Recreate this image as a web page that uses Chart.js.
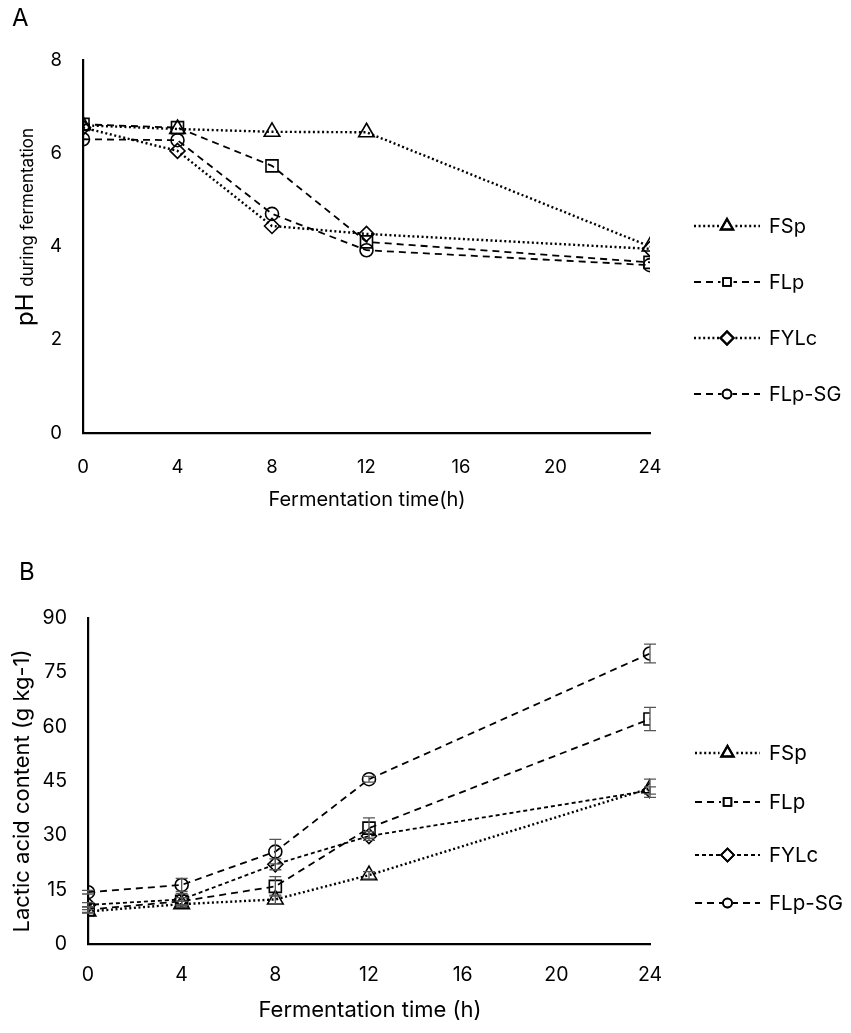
<!DOCTYPE html>
<html>
<head>
<meta charset="utf-8">
<script src="https://cdn.jsdelivr.net/npm/chart.js@4.4.1/dist/chart.umd.min.js"></script>
<style>
html,body{margin:0;padding:0;background:#fff;width:851px;height:1033px;overflow:hidden;}
canvas{position:absolute;left:0;}
#cA{top:0;}
#cB{top:520px;}
</style>
</head>
<body>
<canvas id="cA" width="851" height="520"></canvas>
<canvas id="cB" width="851" height="513"></canvas>
<script>
// ---------- DATA ----------
const seriesNames = ["FSp", "FLp", "FYLc", "FLp-SG"];
const timesH = [0, 4, 8, 12, 24];
const xTicks = [0, 4, 8, 12, 16, 20, 24];

// Panel A: pH during fermentation
const phFSp   = [6.60, 6.52, 6.46, 6.45, 4.00];
const phFLp   = [6.62, 6.55, 5.73, 4.10, 3.66];
const phFYLc  = [6.55, 6.05, 4.44, 4.27, 3.95];
const phFLpSG = [6.30, 6.28, 4.70, 3.92, 3.60];
const phTicks = [0, 2, 4, 6, 8];

// Panel B: lactic acid content (g kg-1)
const laFSp   = [9.0, 11.0, 12.3, 19.0, 43.0];
const laFLp   = [9.5, 11.8, 15.9, 32.0, 62.1];
const laFYLc  = [10.8, 12.3, 22.0, 29.8, 42.4];
const laFLpSG = [14.3, 16.3, 25.5, 45.5, 80.2];
const laErrFSp   = [0.5, 0.8, 1.2, 1.0, 2.5];
const laErrFLp   = [0.8, 1.0, 2.7, 2.8, 3.2];
const laErrFYLc  = [0.6, 1.6, 1.5, 1.2, 1.0];
const laErrFLpSG = [0.5, 1.8, 3.4, 0.8, 2.6];
const laTicks = [0, 15, 30, 45, 60, 75, 90];

// ---------- STYLE ----------
const FONT = "Inter, 'Open Sans', 'Liberation Sans', Arial, sans-serif";
const DOT = [2, 2.6];
const DASH = [7, 5];
const SHORTDASH = [4, 3];
const markerStyles = [
  {pointStyle: 'triangle', radius: 9},
  {pointStyle: 'rect', radius: 8.5},
  {pointStyle: 'rectRot', radius: 7.5},
  {pointStyle: 'circle', radius: 6.5}
];

function makeDataset(name, values, idx, dash, lw) {
  const m = markerStyles[idx];
  return {
    label: name,
    data: timesH.map((t, i) => ({x: t, y: values[i]})),
    borderColor: '#000',
    borderWidth: lw,
    borderDash: dash,
    borderCapStyle: 'butt',
    tension: 0,
    fill: false,
    pointStyle: m.pointStyle,
    pointRadius: m.radius,
    pointBackgroundColor: 'rgba(255,255,255,0)',
    pointBorderColor: '#000',
    pointBorderWidth: 1.6,
    pointHoverRadius: m.radius
  };
}

// ---------- PLUGINS ----------
function legendPlugin(cfg) {
  return {
    id: 'customLegend',
    afterDraw(chart) {
      const ctx = chart.ctx;
      ctx.save();
      chart.data.datasets.forEach((ds, i) => {
        const y = cfg.ys[i];
        ctx.beginPath();
        ctx.setLineDash(ds.borderDash);
        ctx.lineWidth = ds.borderWidth;
        ctx.strokeStyle = '#000';
        ctx.moveTo(cfg.x0, y);
        ctx.lineTo(cfg.x1, y);
        ctx.stroke();
        ctx.setLineDash([]);
        const mx = (cfg.x0 + cfg.x1) / 2;
        const r = cfg.radii[i];
        ctx.fillStyle = '#fff';
        ctx.fillRect(mx - r - 1, y - r - 1, 2 * r + 2, 2 * r + 2);
        Chart.helpers.drawPoint(ctx, {
          pointStyle: ds.pointStyle, radius: r, rotation: 0, borderWidth: 1.6
        }, mx, y);
        ctx.strokeStyle = '#000';
        ctx.lineWidth = 1.6;
        ctx.stroke();
        ctx.fillStyle = '#000';
        ctx.font = cfg.fontSize + 'px ' + FONT;
        ctx.textAlign = 'left';
        ctx.textBaseline = 'middle';
        ctx.fillText(ds.label, cfg.textX, y + 1);
      });
      ctx.restore();
    }
  };
}

function titlesPlugin(cfg) {
  return {
    id: 'titles',
    afterDraw(chart) {
      const ctx = chart.ctx;
      ctx.save();
      ctx.fillStyle = '#000';
      // panel letter
      ctx.font = '24px ' + FONT;
      ctx.textAlign = 'left';
      ctx.textBaseline = 'middle';
      ctx.fillText(cfg.letter, cfg.letterX, cfg.letterY);
      // x title
      ctx.font = cfg.xFont + 'px ' + FONT;
      ctx.textAlign = 'center';
      ctx.fillText(cfg.xTitle, cfg.xTitleX, cfg.xTitleY);
      // y title (rotated, possibly mixed sizes)
      ctx.translate(cfg.yTitleX, cfg.yTitleY);
      ctx.rotate(-Math.PI / 2);
      ctx.textBaseline = 'alphabetic';
      let total = 0;
      cfg.yParts.forEach(p => { ctx.font = p.size + 'px ' + FONT; total += ctx.measureText(p.text).width; });
      let cx = -total / 2;
      ctx.textAlign = 'left';
      cfg.yParts.forEach(p => {
        ctx.font = p.size + 'px ' + FONT;
        ctx.fillText(p.text, cx, 0);
        cx += ctx.measureText(p.text).width;
      });
      ctx.restore();
    }
  };
}

function errorBarPlugin(errs) {
  return {
    id: 'errorBars',
    afterDatasetsDraw(chart) {
      const ctx = chart.ctx;
      const xs = chart.scales.x, ys = chart.scales.y;
      ctx.save();
      ctx.strokeStyle = '#555';
      ctx.lineWidth = 1.3;
      ctx.setLineDash([]);
      chart.data.datasets.forEach((ds, di) => {
        ds.data.forEach((pt, i) => {
          const e = errs[di][i];
          const px = xs.getPixelForValue(pt.x);
          const top = ys.getPixelForValue(pt.y + e);
          const bot = ys.getPixelForValue(pt.y - e);
          ctx.beginPath();
          ctx.moveTo(px, top); ctx.lineTo(px, bot);
          ctx.moveTo(px - 6, top); ctx.lineTo(px + 6, top);
          ctx.moveTo(px - 6, bot); ctx.lineTo(px + 6, bot);
          ctx.stroke();
        });
      });
      ctx.restore();
    }
  };
}

function scalesCfg(yMin, yMax, yTickList, yWidth, xHeight, tickFont, xPad, yPad) {
  return {
    x: {
      type: 'linear', min: 0, max: 24,
      afterBuildTicks: s => { s.ticks = xTicks.map(v => ({value: v})); },
      afterFit: s => { s.height = xHeight; },
      grid: {display: false, drawTicks: false},
      border: {display: true, color: '#000', width: 2.2},
      ticks: {color: '#000', font: {family: FONT, size: tickFont}, padding: xPad, maxRotation: 0, autoSkip: false}
    },
    y: {
      type: 'linear', min: yMin, max: yMax,
      afterBuildTicks: s => { s.ticks = yTickList.map(v => ({value: v})); },
      afterFit: s => { s.width = yWidth; },
      grid: {display: false, drawTicks: false},
      border: {display: true, color: '#000', width: 2.2},
      ticks: {color: '#000', font: {family: FONT, size: tickFont}, padding: yPad, autoSkip: false}
    }
  };
}

Chart.defaults.animation = false;

// ---------- CHART A ----------
new Chart(document.getElementById('cA'), {
  type: 'line',
  data: {
    datasets: [
      makeDataset(seriesNames[0], phFSp, 0, DOT, 2.4),
      makeDataset(seriesNames[1], phFLp, 1, DASH, 1.8),
      makeDataset(seriesNames[2], phFYLc, 2, DOT, 2.4),
      makeDataset(seriesNames[3], phFLpSG, 3, DASH, 1.8)
    ]
  },
  options: {
    responsive: false, devicePixelRatio: 1, animation: false,
    layout: {padding: {top: 60, right: 201, left: 0, bottom: 0}},
    plugins: {legend: {display: false}, tooltip: {enabled: false}},
    scales: scalesCfg(0, 8, phTicks, 83, 87, 18.5, 23, 21)
  },
  plugins: [
    legendPlugin({x0: 694, x1: 760, textX: 769, ys: [226, 282, 338, 394], radii: [7, 5.5, 6.5, 4.5], fontSize: 20}),
    titlesPlugin({
      letter: 'A', letterX: 12, letterY: 19,
      xTitle: 'Fermentation time(h)', xFont: 20, xTitleX: 367, xTitleY: 500,
      yTitleX: 33, yTitleY: 227,
      yParts: [{text: 'pH ', size: 24}, {text: 'during fermentation', size: 17}]
    })
  ]
});

// ---------- CHART B ----------
new Chart(document.getElementById('cB'), {
  type: 'line',
  data: {
    datasets: [
      makeDataset(seriesNames[0], laFSp, 0, DOT, 2.4),
      makeDataset(seriesNames[1], laFLp, 1, DASH, 1.8),
      makeDataset(seriesNames[2], laFYLc, 2, SHORTDASH, 1.8),
      makeDataset(seriesNames[3], laFLpSG, 3, DASH, 1.8)
    ]
  },
  options: {
    responsive: false, devicePixelRatio: 1, animation: false,
    layout: {padding: {top: 98, right: 201, left: 0, bottom: 0}},
    plugins: {legend: {display: false}, tooltip: {enabled: false}},
    scales: scalesCfg(0, 90, laTicks, 88, 89, 19.5, 19, 21)
  },
  plugins: [
    errorBarPlugin([laErrFSp, laErrFLp, laErrFYLc, laErrFLpSG]),
    legendPlugin({x0: 695, x1: 760, textX: 769, ys: [233, 282, 335, 383], radii: [7, 5.5, 6.5, 4.5], fontSize: 20.5}),
    titlesPlugin({
      letter: 'B', letterX: 19, letterY: 53,
      xTitle: 'Fermentation time (h)', xFont: 22, xTitleX: 370, xTitleY: 490,
      yTitleX: 29, yTitleY: 271,
      yParts: [{text: 'Lactic acid content (g kg-1)', size: 22}]
    })
  ]
});
</script>
</body>
</html>
